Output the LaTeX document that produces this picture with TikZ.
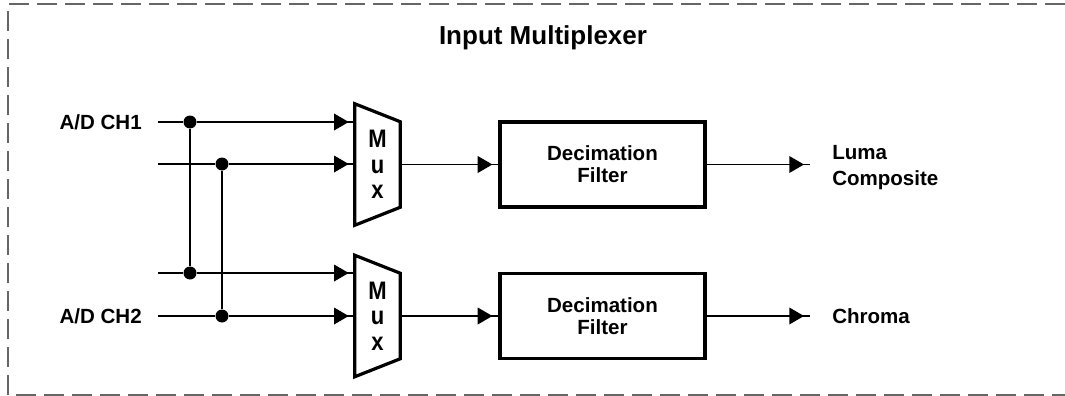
\documentclass[tikz,border=0pt]{standalone}
\usepackage{fontspec}
\setmainfont{Liberation Sans}
\usetikzlibrary{calc,arrows.meta}

\newcommand{\tallch}[1]{\scalebox{1}[1.15]{#1}}
\tikzset{
  wire/.style={line width=1pt},
  flow/.style={wire, postaction={draw, line width=1pt, -{Triangle[length=11pt,width=12.5pt]}, shorten >=4.5pt}},
  dot/.style={circle, fill, inner sep=0pt, minimum size=9.75pt},
  lbl/.style={font=\fontsize{15.4}{16.5}\selectfont\bfseries, inner sep=0pt},
  filterbox/.style={lbl, draw, line width=2.4pt, minimum width=153.75pt, minimum height=63.75pt, align=center},
  muxbox/.style={minimum width=33.75pt, minimum height=90.75pt, inner sep=0pt, align=center, font=\fontsize{16.5}{18}\selectfont\bfseries},
  border/.style={draw=black!60, line width=0.8pt, dash pattern=on 15pt off 6pt},
}

\begin{document}
\begin{tikzpicture}[x=0.75pt,y=-0.75pt]
\useasboundingbox (0,0) rectangle (1065,396);
\draw[border] (1065,4) -- (8,4) -- (8,395) -- (1065,395);
\node[lbl, font=\fontsize{19.5}{22}\selectfont\bfseries] (ttl) at (543,38) {Input Multiplexer};

% inputs and junctions
\coordinate (in1) at (158,122); \coordinate (in2) at (158,164);
\coordinate (in3) at (158,273); \coordinate (in4) at (158,316);
\node[lbl, anchor=east] (ch1) at (142,122) {A/D CH1};
\node[lbl, anchor=east] (ch2) at (142,316) {A/D CH2};
\node[dot] (j1) at (190,122) {}; \node[dot] (j2) at (222,164) {};
\node[dot] (j3) at (190,273) {}; \node[dot] (j4) at (222,316) {};

% muxes and filters
\node[muxbox] (mux1) at (377.5,164.5) {\tallch{M}\\[1pt]\tallch{u}\\[1pt]\tallch{x}};
\node[muxbox] (mux2) at (377.5,316) {\tallch{M}\\[1pt]\tallch{u}\\[1pt]\tallch{x}};
\foreach \m in {mux1,mux2}{
  \draw[line width=2.4pt, line join=miter] (\m.north west) -- ($(\m.north east)+(0,18)$)
    -- ($(\m.south east)+(0,-18)$) -- (\m.south west) -- cycle;}
\node[filterbox] (dec1) at (602.5,164.5) {Decimation\\Filter};
\node[filterbox] (dec2) at (602.5,316) {Decimation\\Filter};

% outputs
\coordinate (out1) at (810,164.5); \coordinate (out2) at (810,316);
\node[lbl, anchor=west, align=left, font=\fontsize{15.4}{19.5}\selectfont\bfseries] (luma) at (832,168) {Luma\\Composite};
\node[lbl, anchor=west] (chroma) at (832,316) {Chroma};

% wiring
\draw[wire] (in1) -- (j1); \draw[wire] (in2) -- (j2);
\draw[wire] (in3) -- (j3); \draw[wire] (in4) -- (j4);
\draw[wire] (j1) -- (j3); \draw[wire] (j2) -- (j4);
\draw[flow] (j1) -- (mux1.west |- j1); \draw[flow] (j2) -- (mux1.west |- j2);
\draw[flow] (j3) -- (mux2.west |- j3); \draw[flow] (j4) -- (mux2.west |- j4);
\draw[flow] (mux1.east) -- (dec1.west); \draw[flow] (mux2.east) -- (dec2.west);
\draw[flow] (dec1.east) -- (out1); \draw[flow] (dec2.east) -- (out2);
\end{tikzpicture}
\end{document}
